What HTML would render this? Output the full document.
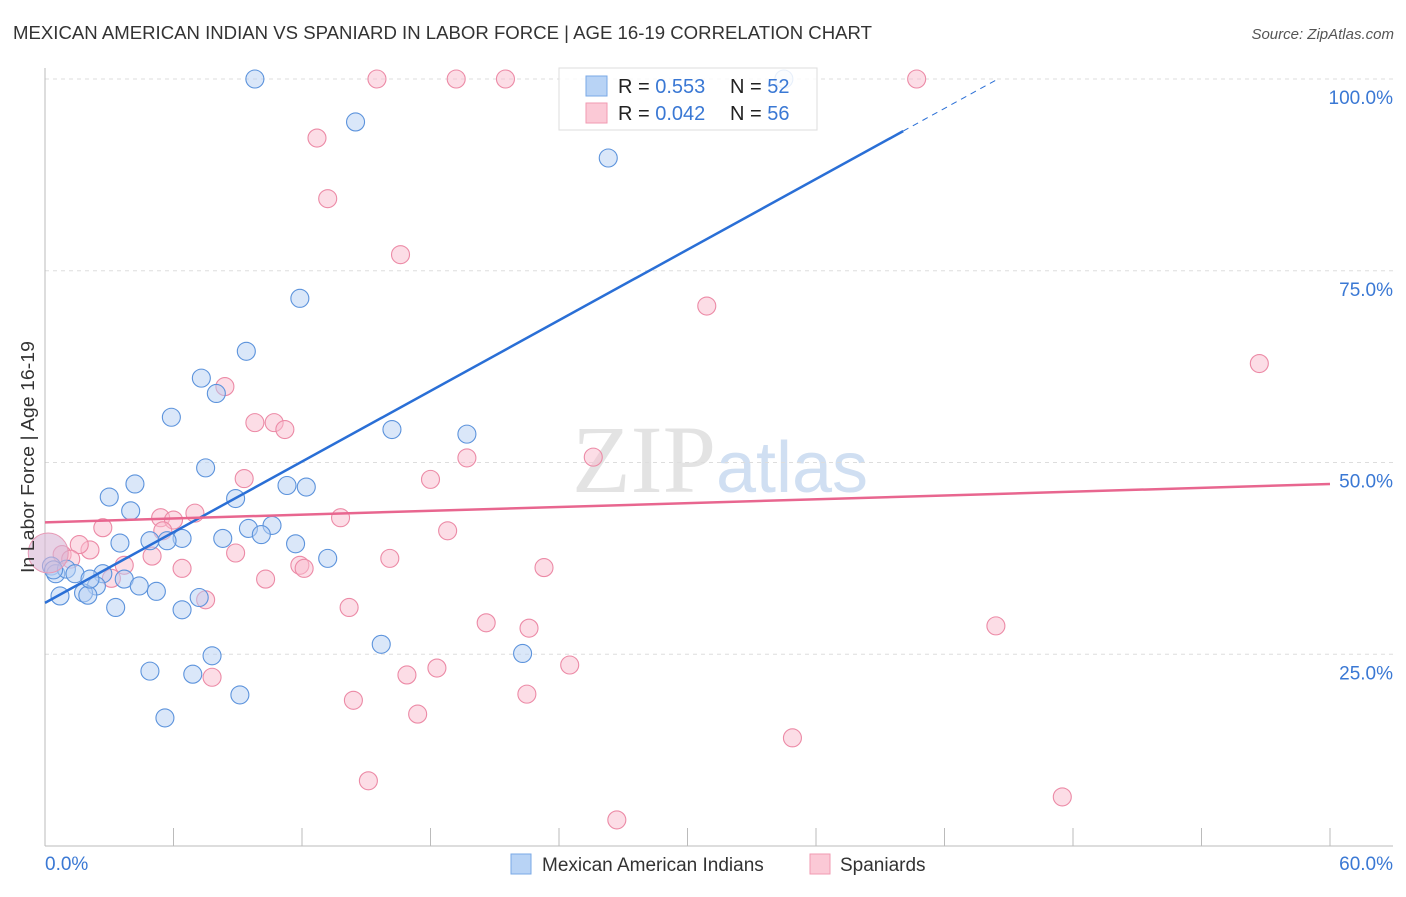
<!DOCTYPE html>
<html><head><meta charset="utf-8"><style>
body{margin:0;background:#fff;font-family:"Liberation Sans",sans-serif}
</style></head><body>
<svg id="c" width="1406" height="892" xmlns="http://www.w3.org/2000/svg" style="font-family:'Liberation Sans',sans-serif">
<text x="13" y="39" font-size="18" fill="#333" textLength="859" lengthAdjust="spacingAndGlyphs">MEXICAN AMERICAN INDIAN VS SPANIARD IN LABOR FORCE | AGE 16-19 CORRELATION CHART</text>
<text x="1394" y="39" font-size="15" fill="#555" text-anchor="end" font-style="italic">Source: ZipAtlas.com</text>
<text x="720" y="492" font-size="96" text-anchor="middle" font-family="Liberation Serif" fill="#ddd" opacity="0.8">ZIP<tspan fill="#c5d8ef" font-family="Liberation Sans" font-size="72">atlas</tspan></text>
<g id="grid"></g><g id="pts"></g><g id="lines"></g>
<text transform="translate(34,457) rotate(-90)" font-size="18" fill="#333" text-anchor="middle" textLength="232" lengthAdjust="spacingAndGlyphs">In Labor Force | Age 16-19</text>
<g>
<rect x="559" y="68" width="258" height="62" fill="#fff" fill-opacity="0.85" stroke="#ddd"/>
<rect x="586" y="76" width="21" height="20" fill="#b8d3f5" stroke="#7aa8e6"/>
<rect x="586" y="103" width="21" height="20" fill="#fbc9d6" stroke="#f09ab2"/>
<text x="618" y="93" font-size="20" fill="#222">R = <tspan fill="#3a78d4">0.553</tspan><tspan x="730">N = </tspan><tspan fill="#3a78d4">52</tspan></text>
<text x="618" y="120" font-size="20" fill="#222">R = <tspan fill="#3a78d4">0.042</tspan><tspan x="730">N = </tspan><tspan fill="#3a78d4">56</tspan></text>
</g>
<g>
<rect x="511" y="854" width="20" height="20" fill="#b8d3f5" stroke="#7aa8e6"/>
<text x="542" y="871" font-size="19" fill="#333">Mexican American Indians</text>
<rect x="810" y="854" width="20" height="20" fill="#fbc9d6" stroke="#f09ab2"/>
<text x="840" y="871" font-size="19" fill="#333">Spaniards</text>
</g>
</svg>
<script>
const yTicks=[100,75,50,25];
const yTickLabels=["100.0%","75.0%","50.0%","25.0%"];
const xTickLabels=["0.0%","60.0%"];
const blueX=[9.8,14.5,26.3,11.9,9.4,7.3,8.0,5.9,16.2,19.7,7.5,4.2,3.0,8.9,11.3,12.2,4.0,9.5,10.6,10.1,8.3,6.4,5.7,4.9,3.5,11.7,13.2,0.3,0.5,1.0,1.4,2.7,3.7,2.4,4.4,5.2,0.7,1.8,2.0,3.3,6.4,7.2,15.7,22.3,7.8,4.9,6.9,9.1,5.6,34.5,0.4,2.1];
const blueY=[100,94.4,89.7,71.4,64.5,61,59,55.9,54.3,53.7,49.3,47.2,45.5,45.3,47,46.8,43.7,41.4,41.8,40.6,40.1,40.1,39.8,39.8,39.5,39.4,37.5,36.5,35.5,36.1,35.5,35.5,34.8,33.9,33.9,33.2,32.6,33,32.7,31.1,30.8,32.4,26.3,25.1,24.8,22.8,22.4,19.7,16.7,100,36,34.8];
const pinkX=[15.5,19.2,21.5,40.7,12.7,13.2,16.6,30.9,56.7,8.4,9.8,10.7,11.2,19.7,25.6,9.3,18.0,5.4,7.0,13.8,6.0,2.7,5.5,18.8,2.1,1.6,0.8,1.2,5.0,3.7,8.9,11.9,12.1,16.1,23.3,6.4,3.1,10.3,7.5,14.2,20.6,22.6,44.4,18.3,16.9,24.5,7.8,14.4,22.5,17.4,34.9,15.1,47.5,26.7];
const pinkY=[100,100,100,100,92.3,84.4,77.1,70.4,62.9,59.9,55.2,55.2,54.3,50.6,50.7,47.9,47.8,42.8,43.4,42.8,42.5,41.5,41.1,41.1,38.6,39.3,38,37.4,37.8,36.6,38.2,36.6,36.2,37.5,36.3,36.2,34.9,34.8,32.1,31.1,29.1,28.4,28.7,23.2,22.3,23.6,22,19,19.8,17.2,14.1,8.5,6.4,3.4];
const bigPoint=[0.15,38.2];
const blueFit=[31.7,1.535], pinkFit=[42.2,0.0833];
const X=v=>45+v/60*1285, Y=v=>846-v/100*767;
const NS="http://www.w3.org/2000/svg";
function mk(p,t,a){const e=document.createElementNS(NS,t);for(const k in a)e.setAttribute(k,a[k]);p.appendChild(e);return e;}
const g=document.getElementById('grid');
yTicks.forEach((t,i)=>{
 const l=mk(g,'line',{x1:45,x2:1393,y1:Y(t),y2:Y(t),stroke:'#ddd','stroke-dasharray':'4,4'});
 
 
 const tx=mk(g,'text',{x:1393,y:Y(t)+25,'font-size':19,fill:'#3a78d4','text-anchor':'end'});tx.textContent=yTickLabels[i];
 
 
});
const ax=mk(g,'line',{x1:45,x2:45,y1:68,y2:846,stroke:'#bbb'});


const bx=mk(g,'line',{x1:45,x2:1393,y1:846,y2:846,stroke:'#bbb'});


for(let i=0;i<=10;i++){const t=mk(g,'line',{x1:X(i*6),x2:X(i*6),y1:828,y2:846,stroke:'#bbb'});
 
 }
[[0,'start',45],[60,'end',1393]].forEach((d,i)=>{const t=mk(g,'text',{x:d[2],y:870,'font-size':19,fill:'#3a78d4','text-anchor':d[1]});t.textContent=xTickLabels[i];
 
 });
const P=document.getElementById('pts');
function dots(xs,ys,f,s,name){xs.forEach((x,i)=>{const c=mk(P,'circle',{cx:X(x),cy:Y(ys[i]),r:9,fill:f,'fill-opacity':0.5,stroke:s,'stroke-width':1.1});
 
 });}
dots(pinkX,pinkY,'#f9bccd','#ec8aa6','spaniard-point');
dots(blueX,blueY,'#b5cff3','#5c93dc','mexican-american-indian-point');
const bp=mk(P,'circle',{cx:X(bigPoint[0]),cy:Y(bigPoint[1]),r:20,fill:'#d7b6d6','fill-opacity':0.6,stroke:'#e79ab6'});


const L=document.getElementById('lines');
const f=(fit,x)=>fit[0]+fit[1]*x;
const b1=mk(L,'line',{x1:X(0),y1:Y(f(blueFit,0)),x2:X(40.07),y2:Y(f(blueFit,40.07)),stroke:'#2a6fd6','stroke-width':2.5});


const b2=mk(L,'line',{x1:X(40.07),y1:Y(f(blueFit,40.07)),x2:X(44.5),y2:Y(f(blueFit,44.5)),stroke:'#2a6fd6','stroke-width':1,'stroke-dasharray':'6,5'});


const p1=mk(L,'line',{x1:X(0),y1:Y(f(pinkFit,0)),x2:X(60),y2:Y(f(pinkFit,60)),stroke:'#e8668f','stroke-width':2.5});


</script>
</body></html>
